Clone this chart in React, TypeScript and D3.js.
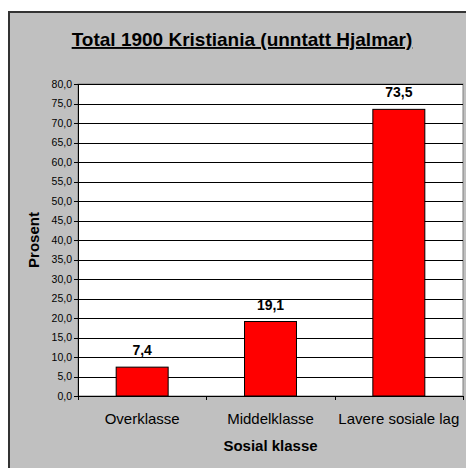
import React from "react";
import * as d3 from "d3";

const categories = ["Overklasse", "Middelklasse", "Lavere sosiale lag"];
const values = [7.4, 19.1, 73.5];
const valueLabels = ["7,4", "19,1", "73,5"];
const yTicks = [0, 5, 10, 15, 20, 25, 30, 35, 40, 45, 50, 55, 60, 65, 70, 75, 80];
const title = "Total 1900 Kristiania (unntatt Hjalmar)";
const xTitle = "Sosial klasse";
const yTitle = "Prosent";

const W = 466;
const H = 468;
const plot = { left: 78, right: 463, top: 84, bottom: 396 };
const FONT = "'Liberation Sans', Arial, sans-serif";

export default function App() {
  const x = d3.scaleBand<string>().domain(categories).range([plot.left, plot.right]).padding(0);
  const y = d3.scaleLinear().domain([0, 80]).range([plot.bottom, plot.top]);
  const barW = x.bandwidth() * 0.405;
  const fmt = (v: number) => v.toFixed(1).replace(".", ",");

  return (
    <svg width={W} height={H} style={{ position: "absolute", left: 0, top: 0 }} fontFamily={FONT}>
      <rect x={9} y={12} width={W + 10} height={H + 10} fill="#c0c0c0" stroke="#333" strokeWidth={2} />
      <text x={242} y={46} textAnchor="middle" fontSize={19} fontWeight="bold" textDecoration="underline">
        {title}
      </text>
      <rect x={plot.left} y={plot.top} width={plot.right - plot.left} height={plot.bottom - plot.top} fill="#fff" stroke="#808080" strokeWidth={1} />
      {yTicks.map((t) => (
        <g key={t}>
          <line x1={plot.left} x2={plot.right} y1={Math.round(y(t)) + 0.5} y2={Math.round(y(t)) + 0.5} stroke="#000" strokeWidth={1} />
          <line x1={plot.left - 4} x2={plot.left} y1={Math.round(y(t)) + 0.5} y2={Math.round(y(t)) + 0.5} stroke="#000" strokeWidth={1} />
          <text x={plot.left - 6} y={y(t) + 3.5} textAnchor="end" fontSize={10.5} fill="#000">
            {fmt(t)}
          </text>
        </g>
      ))}
      {categories.map((c, i) => {
        const cx = (x(c) as number) + x.bandwidth() / 2;
        return (
          <g key={c}>
            <rect x={cx - barW / 2} y={y(values[i])} width={barW} height={y(0) - y(values[i])} fill="#ff0000" stroke="#000" strokeWidth={1} />
            <text x={cx} y={y(values[i]) - 12} textAnchor="middle" fontSize={14} fontWeight="bold">
              {valueLabels[i]}
            </text>
            <text x={cx} y={424} textAnchor="middle" fontSize={15}>
              {c}
            </text>
          </g>
        );
      })}
      <line x1={plot.left + 0.5} x2={plot.left + 0.5} y1={plot.top} y2={plot.bottom + 4} stroke="#000" strokeWidth={1} />
      <line x1={plot.left} x2={plot.right + 1} y1={plot.bottom + 0.5} y2={plot.bottom + 0.5} stroke="#000" strokeWidth={1} />
      {[...categories.map((c) => x(c) as number), plot.right].map((v, i) => (
        <line key={i} x1={Math.round(v) + 0.5} x2={Math.round(v) + 0.5} y1={plot.bottom} y2={plot.bottom + 4} stroke="#000" strokeWidth={1} />
      ))}
      <text x={(plot.left + plot.right) / 2} y={451} textAnchor="middle" fontSize={15} fontWeight="bold">
        {xTitle}
      </text>
      <text transform={`translate(39, 240) rotate(-90)`} textAnchor="middle" fontSize={15} fontWeight="bold">
        {yTitle}
      </text>
    </svg>
  );
}
